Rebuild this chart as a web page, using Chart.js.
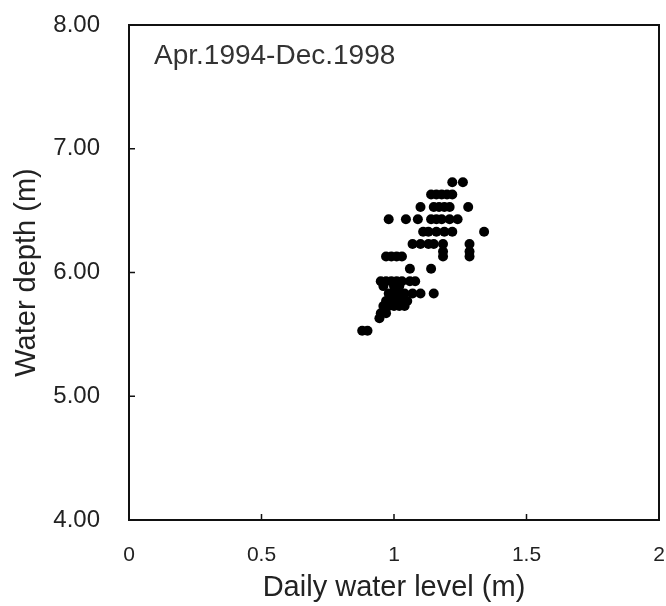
<!DOCTYPE html>
<html>
<head>
<meta charset="utf-8">
<script src="https://cdn.jsdelivr.net/npm/chart.js@4.4.1/dist/chart.umd.min.js"></script>
<style>
  html, body { margin: 0; padding: 0; background: #fff; }
</style>
</head>
<body>
<canvas id="depthChart" width="666" height="606"></canvas>
<script>
// daily water level (m) vs water depth (m)
var waterLevel = [
  1.22, 1.26,
  1.14, 1.16, 1.18, 1.20, 1.22,
  1.10, 1.15, 1.17, 1.19, 1.21, 1.28,
  0.98, 1.045, 1.09, 1.14, 1.16, 1.18, 1.21, 1.24,
  1.11, 1.13, 1.16, 1.19, 1.22, 1.34,
  1.07, 1.10, 1.13, 1.15, 1.185, 1.285,
  1.185, 1.285,
  0.97, 0.99, 1.01, 1.03, 1.185, 1.285,
  1.06, 1.14,
  0.95, 0.97, 0.99, 1.01, 1.03, 1.06, 1.08,
  0.96, 1.00, 1.02,
  0.98, 1.00, 1.02, 1.04, 1.07, 1.10, 1.15,
  0.97, 0.99, 1.01, 1.03, 1.05,
  0.96, 0.98, 1.00, 1.02, 1.04,
  0.95, 0.97,
  0.945,
  0.88, 0.90
];
var waterDepth = [
  6.73, 6.73,
  6.63, 6.63, 6.63, 6.63, 6.63,
  6.53, 6.53, 6.53, 6.53, 6.53, 6.53,
  6.43, 6.43, 6.43, 6.43, 6.43, 6.43, 6.43, 6.43,
  6.33, 6.33, 6.33, 6.33, 6.33, 6.33,
  6.23, 6.23, 6.23, 6.23, 6.23, 6.23,
  6.17, 6.17,
  6.13, 6.13, 6.13, 6.13, 6.13, 6.13,
  6.03, 6.03,
  5.93, 5.93, 5.93, 5.93, 5.93, 5.93, 5.93,
  5.89, 5.89, 5.89,
  5.83, 5.83, 5.83, 5.83, 5.83, 5.83, 5.83,
  5.77, 5.77, 5.77, 5.77, 5.77,
  5.73, 5.73, 5.73, 5.73, 5.73,
  5.67, 5.67,
  5.63,
  5.53, 5.53
];
var xTicks = [0, 0.5, 1, 1.5, 2];
var yTicks = [4, 5, 6, 7, 8];
var periodLabel = 'Apr.1994-Dec.1998';

var points = waterLevel.map(function (x, i) { return { x: x, y: waterDepth[i] }; });

var FONT = '"Liberation Sans", Arial, sans-serif';
Chart.defaults.font.family = FONT;
Chart.defaults.color = '#222';

// black frame, inward ticks and the period label
var framePlugin = {
  id: 'frame',
  afterDraw: function (chart) {
    var c = chart.ctx, a = chart.chartArea;
    var xs = chart.scales.x, ys = chart.scales.y;
    c.save();
    c.strokeStyle = '#111';
    c.lineWidth = 2;
    c.strokeRect(a.left, a.top, a.right - a.left, a.bottom - a.top);
    c.lineWidth = 1.5;
    c.beginPath();
    xTicks.forEach(function (v) {
      var px = xs.getPixelForValue(v);
      c.moveTo(px, a.bottom);
      c.lineTo(px, a.bottom - 6);
    });
    yTicks.forEach(function (v) {
      var py = ys.getPixelForValue(v);
      c.moveTo(a.left, py);
      c.lineTo(a.left + 6, py);
    });
    c.stroke();
    c.fillStyle = '#333';
    c.font = '28px ' + FONT;
    c.textBaseline = 'middle';
    c.fillText(periodLabel, a.left + 25, ys.getPixelForValue(7.75));
    c.restore();
  }
};

var ctx = document.getElementById('depthChart').getContext('2d');
var depthChart = new Chart(ctx, {
  type: 'scatter',
  data: {
    datasets: [{
      label: 'Water depth',
      data: points,
      backgroundColor: '#000',
      borderColor: '#000',
      pointRadius: 5,
      pointBorderWidth: 0
    }]
  },
  options: {
    responsive: false,
    animation: false,
    layout: { padding: { top: 25, right: 7, left: 0, bottom: 0 } },
    plugins: { legend: { display: false }, tooltip: { enabled: false } },
    scales: {
      x: {
        type: 'linear',
        min: 0, max: 2,
        afterBuildTicks: function (s) { s.ticks = xTicks.map(function (v) { return { value: v }; }); },
        afterFit: function (s) { s.height = 86; s.paddingLeft = 0; s.paddingRight = 0; },
        grid: { display: false, drawTicks: false },
        border: { display: false },
        ticks: { padding: 23, font: { size: 21 }, color: '#222',
          callback: function (v) { return String(v); } },
        title: { display: true, text: 'Daily water level (m)', font: { size: 29 }, color: '#222',
          padding: { top: 1, bottom: 1 } }
      },
      y: {
        type: 'linear',
        min: 4, max: 8,
        afterBuildTicks: function (s) { s.ticks = yTicks.map(function (v) { return { value: v }; }); },
        afterFit: function (s) { s.width = 129; s.paddingTop = 0; s.paddingBottom = 0; },
        grid: { display: false, drawTicks: false },
        border: { display: false },
        ticks: { padding: 29, font: { size: 24 }, color: '#222',
          callback: function (v) { return v.toFixed(2); } },
        title: { display: true, text: 'Water depth (m)', font: { size: 29 }, color: '#222',
          padding: { top: 10, bottom: 10 } }
      }
    }
  },
  plugins: [framePlugin]
});
</script>
</body>
</html>
